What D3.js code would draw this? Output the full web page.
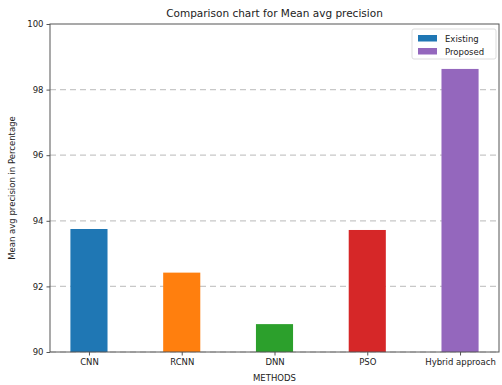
<!DOCTYPE html>
<html>
<head>
<meta charset="utf-8">
<script src="https://cdn.jsdelivr.net/npm/d3@7"></script>
<style>
  body { margin: 0; background: #fff; }
  svg { font-family: "DejaVu Sans", sans-serif; }
</style>
</head>
<body>
<div id="chart"></div>
<script>
// chart size and plot area
const width = 502;
const height = 385;
const margin = {left: 50, right: 3, top: 24, bottom: 33};

// data
const methods = ["CNN", "RCNN", "DNN", "PSO", "Hybrid approach"];
const precision = [93.75, 92.42, 90.85, 93.72, 98.63];
const colors = ["#1f77b4", "#ff7f0e", "#2ca02c", "#d62728", "#9467bd"];
const yTicks = [90, 92, 94, 96, 98, 100];
const legendLabels = ["Existing", "Proposed"];
const legendColors = ["#1f77b4", "#9467bd"];

const svg = d3.select("#chart")
  .append("svg")
  .attr("width", width)
  .attr("height", height);

// y scale, 90 at the bottom spine, 100 at the top
const yScale = d3.scaleLinear()
  .domain([90, 100])
  .range([height - margin.bottom, margin.top]);

// x positions like matplotlib: index -0.42 .. 4.42
const xScale = d3.scaleLinear()
  .domain([-0.42, methods.length - 1 + 0.42])
  .range([margin.left, width - margin.right]);
const barW = xScale(0.4) - xScale(0);

// dashed grid
svg.append("g")
  .selectAll("line")
  .data(yTicks.slice(0, -1))
  .enter()
  .append("line")
    .attr("x1", margin.left)
    .attr("x2", width - margin.right)
    .attr("y1", d => yScale(d))
    .attr("y2", d => yScale(d))
    .attr("stroke", "#c8c8c8")
    .attr("stroke-width", 1.2)
    .attr("stroke-dasharray", "6,4");

// bars
svg.selectAll(".bar")
  .data(precision)
  .enter()
  .append("rect")
    .attr("class", "bar")
    .attr("x", (d, i) => xScale(i) - barW / 2)
    .attr("y", d => yScale(d))
    .attr("width", barW)
    .attr("height", d => yScale(90) - yScale(d))
    .attr("fill", (d, i) => colors[i]);

// frame
svg.append("rect")
  .attr("x", margin.left)
  .attr("y", margin.top)
  .attr("width", width - margin.right - margin.left)
  .attr("height", height - margin.bottom - margin.top)
  .attr("fill", "none")
  .attr("stroke", "#555")
  .attr("stroke-width", 1);

// axes
const yAxis = svg.append("g")
  .attr("transform", `translate(${margin.left},0)`)
  .call(d3.axisLeft(yScale).tickValues(yTicks).tickSize(3.5).tickPadding(3));
const xAxis = svg.append("g")
  .attr("transform", `translate(0,${height - margin.bottom})`)
  .call(d3.axisBottom(xScale).tickValues(d3.range(methods.length))
    .tickFormat(i => methods[i]).tickSize(3.5).tickPadding(3));

[yAxis, xAxis].forEach(g => {
  g.select(".domain").remove();
  g.selectAll("line").attr("stroke", "#555");
  g.selectAll("text").attr("font-size", "8.5px").attr("fill", "#222")
    .attr("font-family", "DejaVu Sans, sans-serif");
});

// title and axis labels
svg.append("text")
  .attr("x", (margin.left + width - margin.right) / 2)
  .attr("y", 17)
  .attr("text-anchor", "middle")
  .attr("font-size", "10.5px")
  .attr("fill", "#222")
  .text("Comparison chart for Mean avg precision");

svg.append("text")
  .attr("x", (margin.left + width - margin.right) / 2)
  .attr("y", 381)
  .attr("text-anchor", "middle")
  .attr("font-size", "8.5px")
  .attr("fill", "#222")
  .text("METHODS");

svg.append("text")
  .attr("transform", `translate(15,${(margin.top + height - margin.bottom) / 2}) rotate(-90)`)
  .attr("text-anchor", "middle")
  .attr("font-size", "8.5px")
  .attr("fill", "#222")
  .text("Mean avg precision in Percentage");

// legend
const legend = svg.append("g").attr("transform", "translate(412,29)");
legend.append("rect")
  .attr("width", 84).attr("height", 30).attr("rx", 2)
  .attr("fill", "#fff").attr("fill-opacity", 0.8)
  .attr("stroke", "#ddd");
legendLabels.forEach((lab, i) => {
  legend.append("rect")
    .attr("x", 6).attr("y", 6 + i * 13)
    .attr("width", 19).attr("height", 6.5)
    .attr("fill", legendColors[i]);
  legend.append("text")
    .attr("x", 33).attr("y", 12.5 + i * 13)
    .attr("font-size", "8.5px")
    .attr("fill", "#222")
    .text(lab);
});
</script>
</body>
</html>
